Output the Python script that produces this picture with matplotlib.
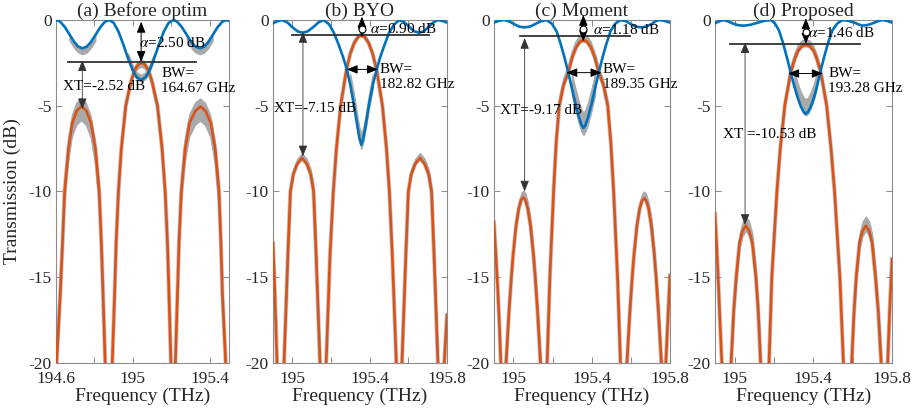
import numpy as np
import matplotlib.pyplot as plt

plt.rcParams['font.family'] = ['Liberation Serif', 'DejaVu Serif']
plt.rcParams['mathtext.fontset'] = 'stix'

# -----------------------------
# Values
# -----------------------------
titles = ['(a) Before optim', '(b) BYO', '(c) Moment', '(d) Proposed']
freq_lims = [(194.6, 195.5), (194.9, 195.8), (194.9, 195.8), (194.9, 195.8)]
x_major = [[194.6, 195.0, 195.4], [195.0, 195.4, 195.8],
           [195.0, 195.4, 195.8], [195.0, 195.4, 195.8]]
x_major_lab = [['194.6', '195', '195.4'], ['195', '195.4', '195.8'],
               ['195', '195.4', '195.8'], ['195', '195.4', '195.8']]
x_minor = [[194.8, 195.2], [195.2, 195.6], [195.2, 195.6], [195.2, 195.6]]
y_ticks = [0, -5, -10, -15, -20]
y_tick_lab = ['0', '-5', '-10', '-15', '-20']

# drop port (orange), (THz, dB)
drop_a = [(194.597, -30), (194.603, -20), (194.622, -16), (194.634, -13), (194.645, -10),
          (194.665, -7.5), (194.685, -6.0), (194.708, -5.3), (194.733, -5.02), (194.758, -5.3),
          (194.782, -6.0), (194.805, -7.5), (194.825, -10), (194.836, -13), (194.845, -16),
          (194.856, -20), (194.875, -30), (194.893, -20), (194.905, -16), (194.913, -13),
          (194.925, -10), (194.94, -7.5), (194.963, -5.0), (194.99, -3.6), (195.01, -2.9),
          (195.028, -2.6), (195.045, -2.5), (195.062, -2.6), (195.08, -2.9), (195.1, -3.6),
          (195.128, -5.0), (195.152, -7.5), (195.168, -10), (195.18, -13), (195.188, -16),
          (195.198, -20), (195.21, -30), (195.221, -20), (195.232, -16), (195.24, -13),
          (195.252, -10), (195.272, -7.5), (195.295, -6.0), (195.325, -5.3), (195.352, -5.05),
          (195.378, -5.3), (195.405, -6.0), (195.428, -7.5), (195.448, -10), (195.458, -13),
          (195.466, -16), (195.483, -20), (195.495, -30)]
drop_b = [(194.9, -13.0), (194.907, -15), (194.914, -17.5), (194.921, -20), (194.94, -30),
          (194.957, -20), (194.977, -13.7), (194.99, -10), (195.005, -9.0), (195.025, -8.4),
          (195.05, -8.05), (195.075, -8.4), (195.095, -9.0), (195.11, -10), (195.123, -13.7),
          (195.143, -20), (195.16, -30), (195.175, -20), (195.195, -13.7), (195.212, -10),
          (195.228, -7.5), (195.25, -5), (195.28, -2.9), (195.3, -1.95), (195.32, -1.35),
          (195.34, -1.0), (195.357, -0.9), (195.375, -1.0), (195.395, -1.35), (195.415, -1.95),
          (195.436, -2.9), (195.466, -5), (195.487, -7.5), (195.502, -10), (195.517, -13.7),
          (195.538, -20), (195.552, -30), (195.567, -20), (195.587, -13.7), (195.6, -10),
          (195.615, -9.0), (195.635, -8.4), (195.66, -8.05), (195.685, -8.4), (195.705, -9.0),
          (195.72, -10), (195.733, -13.7), (195.753, -20), (195.77, -30), (195.786, -20),
          (195.793, -18.5), (195.8, -17.2)]
drop_c = [(194.9, -11.8), (194.91, -13.7), (194.92, -15.8), (194.928, -17.8), (194.935, -20),
          (194.95, -30), (194.962, -20), (194.977, -17), (194.989, -15), (194.998, -13.7),
          (195.013, -12), (195.027, -11), (195.04, -10.47), (195.05, -10.35), (195.06, -10.47),
          (195.073, -11), (195.087, -12), (195.102, -13.7), (195.111, -15), (195.123, -17),
          (195.138, -20), (195.153, -30), (195.172, -20), (195.186, -15), (195.205, -10),
          (195.218, -7.2), (195.234, -5), (195.256, -3.8), (195.28, -3.06), (195.3, -2.2),
          (195.32, -1.6), (195.34, -1.26), (195.358, -1.18), (195.376, -1.26), (195.396, -1.6),
          (195.416, -2.2), (195.436, -3.06), (195.46, -3.8), (195.482, -5), (195.498, -7.2),
          (195.512, -10), (195.532, -15), (195.547, -20), (195.562, -30), (195.58, -20),
          (195.595, -17), (195.607, -15), (195.616, -13.7), (195.631, -12), (195.645, -11),
          (195.658, -10.52), (195.668, -10.4), (195.678, -10.52), (195.691, -11), (195.705, -12),
          (195.72, -13.7), (195.729, -15), (195.741, -17), (195.756, -20), (195.767, -30),
          (195.779, -20), (195.79, -17.3), (195.8, -14.9)]
drop_d = [(194.9, -11.3), (194.908, -13), (194.918, -15.5), (194.927, -18), (194.935, -20),
          (194.957, -30), (194.982, -20), (194.995, -17), (195.008, -15), (195.025, -13),
          (195.04, -12.3), (195.057, -11.99), (195.074, -12.3), (195.09, -13), (195.108, -15),
          (195.12, -17), (195.132, -20), (195.153, -30), (195.175, -20), (195.189, -15),
          (195.215, -10), (195.232, -7.5), (195.255, -5), (195.285, -3.06), (195.305, -2.3),
          (195.322, -1.8), (195.342, -1.52), (195.362, -1.45), (195.382, -1.52), (195.402, -1.8),
          (195.419, -2.3), (195.438, -3.06), (195.468, -5), (195.49, -7.5), (195.508, -10),
          (195.535, -15), (195.553, -20), (195.575, -30), (195.595, -20), (195.607, -17),
          (195.618, -15), (195.635, -13), (195.65, -12.3), (195.667, -12.0), (195.684, -12.3),
          (195.699, -13), (195.716, -15), (195.73, -17), (195.745, -20), (195.76, -30),
          (195.778, -20), (195.788, -17), (195.8, -13.95)]

# through port (blue), (THz, dB)
thru_a = [(194.6, 0), (194.62, -0.08), (194.645, -0.39), (194.67, -0.84), (194.695, -1.28),
          (194.715, -1.54), (194.737, -1.65), (194.76, -1.55), (194.78, -1.31), (194.805, -0.88),
          (194.83, -0.43), (194.855, -0.1), (194.877, 0), (194.9, -0.16), (194.925, -0.67),
          (194.95, -1.42), (194.975, -2.24), (195.0, -2.95), (195.02, -3.34), (195.043, -3.5),
          (195.065, -3.35), (195.085, -2.98), (195.11, -2.27), (195.135, -1.45), (195.16, -0.7),
          (195.185, -0.18), (195.209, 0), (195.23, -0.09), (195.255, -0.42), (195.28, -0.86),
          (195.305, -1.3), (195.325, -1.54), (195.348, -1.65), (195.37, -1.56), (195.39, -1.32),
          (195.415, -0.88), (195.44, -0.43), (195.465, -0.1), (195.486, 0), (195.5, -0.05)]
thru_b = [(194.9, -0.19), (194.925, -0.06), (194.947, 0), (194.975, -0.15), (195.0, -0.42),
          (195.03, -0.68), (195.055, -0.74), (195.08, -0.66), (195.11, -0.4), (195.135, -0.14),
          (195.162, 0), (195.19, -0.25), (195.215, -0.75), (195.24, -1.45), (195.262, -2.15),
          (195.283, -2.9), (195.3, -3.8), (195.318, -4.9), (195.335, -6.1), (195.347, -6.9),
          (195.357, -7.27), (195.367, -6.9), (195.38, -6.1), (195.397, -4.9), (195.416, -3.8),
          (195.436, -2.9), (195.455, -2.15), (195.477, -1.45), (195.5, -0.75), (195.527, -0.25),
          (195.555, 0), (195.58, -0.14), (195.605, -0.4), (195.63, -0.66), (195.655, -0.74),
          (195.68, -0.66), (195.705, -0.4), (195.73, -0.14), (195.752, 0), (195.775, -0.05),
          (195.8, -0.15)]
thru_c = [(194.9, -0.15), (194.93, -0.03), (194.955, 0), (194.98, -0.09), (195.005, -0.25),
          (195.03, -0.39), (195.057, -0.43), (195.085, -0.38), (195.11, -0.24), (195.14, -0.07),
          (195.168, 0), (195.195, -0.2), (195.22, -0.65), (195.24, -1.35), (195.26, -2.15),
          (195.28, -3.06), (195.298, -3.95), (195.316, -4.85), (195.333, -5.6), (195.347, -6.1),
          (195.358, -6.3), (195.369, -6.1), (195.383, -5.6), (195.4, -4.85), (195.418, -3.95),
          (195.436, -3.06), (195.456, -2.15), (195.476, -1.35), (195.496, -0.65), (195.521, -0.2),
          (195.548, 0), (195.575, -0.07), (195.6, -0.24), (195.625, -0.38), (195.653, -0.43),
          (195.68, -0.38), (195.705, -0.24), (195.727, -0.07), (195.747, 0), (195.772, -0.05),
          (195.8, -0.15)]
thru_d = [(194.9, -0.19), (194.925, -0.06), (194.946, 0), (194.97, -0.1), (194.995, -0.22),
          (195.02, -0.31), (195.048, -0.33), (195.08, -0.28), (195.11, -0.18), (195.15, -0.05),
          (195.184, 0), (195.205, -0.2), (195.225, -0.6), (195.245, -1.3), (195.265, -2.15),
          (195.285, -3.06), (195.303, -3.85), (195.32, -4.5), (195.335, -5.0), (195.35, -5.35),
          (195.362, -5.47), (195.374, -5.35), (195.389, -5.0), (195.404, -4.5), (195.419, -3.85),
          (195.435, -3.06), (195.455, -2.15), (195.476, -1.3), (195.497, -0.6), (195.522, -0.2),
          (195.549, 0), (195.58, -0.05), (195.615, -0.18), (195.63, -0.26), (195.651, -0.33),
          (195.68, -0.28), (195.705, -0.18), (195.73, -0.06), (195.752, 0), (195.775, -0.05),
          (195.8, -0.15)]

# spread of the gray Monte-Carlo curves: (f start, f end, dB above, dB below)
drop_spread = [
    [(194.597, 194.875, 0.45, -0.85), (195.21, 195.495, 0.45, -0.85), (194.875, 195.21, 0.15, -0.25)],
    [(194.94, 195.16, 0.3, 0.0), (195.552, 195.77, 0.3, 0.0), (195.16, 195.552, 0.15, 0.0)],
    [(195.153, 195.562, 0.35, -0.1), (194.95, 195.153, 0.4, 0.0), (195.562, 195.767, 0.4, 0.0)],
    [(195.153, 195.575, 0.3, -0.1), (194.957, 195.153, 0.55, -0.3), (195.575, 195.76, 0.55, -0.3)],
]
thru_spread = [
    [(194.66, 194.81, 0.0, -0.35), (195.27, 195.43, 0.0, -0.35), (194.97, 195.12, 0.3, -0.1)],
    [(195.3, 195.42, 0.65, -0.25)],
    [(195.29, 195.43, 0.9, -0.4)],
    [(195.29, 195.43, 0.85, -0.1)],
]

# annotations
hline_y = [-2.45, -0.85, -0.95, -1.4]
hline_f0 = [194.662, 194.997, 195.033, 194.975]
hline_f1 = [195.329, 195.707, 195.595, 195.636]
xt_f = [194.737, 195.055, 195.057, 195.053]
xt_top = [-2.35, -0.7, -1.05, -1.3]
xt_bot = [-5.2, -7.95, -10.0, -11.95]
xt_text = ['XT=-2.52 dB', 'XT=-7.15 dB', 'XT=-9.17 dB', 'XT =-10.53 dB']
xt_tf = [194.636, 194.905, 194.93, 194.94]
xt_ty = [-3.85, -5.15, -5.25, -6.7]
alpha_f = [195.043, 195.36, 195.357, 195.362]
alpha_top = [-0.1, 0.2, 0.3, 0.1]
alpha_bot = [-2.45, -1.0, -1.25, -1.4]
alpha_val = ['2.50', '0.90', '1.18', '1.46']
alpha_tf = [195.03, 195.402, 195.406, 195.375]
alpha_ty = [-1.32, -0.54, -0.58, -0.77]
circle_y = [None, -0.55, -0.5, -0.7]
bw_y = [None, -2.88, -3.07, -3.12]
bw_f0 = [None, 195.281, 195.27, 195.272]
bw_f1 = [None, 195.443, 195.45, 195.448]
bw_val = ['164.67', '182.82', '189.35', '193.28']
bw_tf = [195.148, 195.453, 195.457, 195.475]
bw_ty = [-3.55, -3.33, -3.33, -3.55]

drops = [drop_a, drop_b, drop_c, drop_d]
thrus = [thru_a, thru_b, thru_c, thru_d]

# -----------------------------
# Figure
# -----------------------------
fig = plt.figure(figsize=(9.13, 4.09), dpi=100, facecolor='white')
positions = [(0.0613, 0.1125, 0.1895, 0.8386), (0.299, 0.1125, 0.1906, 0.8386),
             (0.541, 0.1125, 0.1928, 0.8386), (0.7831, 0.1125, 0.1939, 0.8386)]

c_drop = '#D95319'
c_thru = '#0072BD'
c_gray = '#a9a9a9'
c_axis = '#8c8c8c'
c_text = '#262626'


def double_arrow(ax, p0, p1, lw=0.7, color='black'):
    ax.annotate('', xy=p1, xytext=p0, annotation_clip=False, zorder=6,
                arrowprops=dict(arrowstyle='<|-|>,head_length=0.55,head_width=0.22',
                                color=color, lw=lw, shrinkA=0, shrinkB=0,
                                mutation_scale=12))


def gray_band(ax, f, t, spreads):
    for f0, f1, up, dn in spreads:
        m = (f >= f0) & (f <= f1)
        ax.fill_between(f, t + up, t + dn, where=m, color=c_gray, lw=0.8,
                        edgecolor=c_gray, zorder=1)


for i in range(4):
    ax = fig.add_axes(positions[i])
    fd, td = np.array(drops[i]).T
    fb, tb = np.array(thrus[i]).T

    # gray Monte-Carlo curves
    ax.plot(fd, td, color='#c6c6c6', lw=3.1, zorder=1, solid_joinstyle='round')
    gray_band(ax, fd, td, drop_spread[i])
    gray_band(ax, fb, tb, thru_spread[i])

    ax.plot(fd, td, color=c_drop, lw=1.9, zorder=3, solid_joinstyle='round')
    ax.plot(fb, tb, color=c_thru, lw=1.9, zorder=4, solid_joinstyle='round')

    # annotations
    ax.plot([hline_f0[i], hline_f1[i]], [hline_y[i], hline_y[i]],
            color='#333333', lw=1.3, zorder=5)
    double_arrow(ax, (xt_f[i], xt_top[i]), (xt_f[i], xt_bot[i]), lw=0.6, color='#333333')
    double_arrow(ax, (alpha_f[i], alpha_top[i]), (alpha_f[i], alpha_bot[i]))
    if circle_y[i] is not None:
        ax.plot(alpha_f[i], circle_y[i], 'o', ms=5, mfc='white', mec='black',
                mew=0.8, zorder=7, clip_on=False)
    if bw_y[i] is not None:
        double_arrow(ax, (bw_f0[i], bw_y[i]), (bw_f1[i], bw_y[i]))

    ax.text(xt_tf[i], xt_ty[i], xt_text[i], fontsize=11, va='center', ha='left',
            color='black', zorder=8)
    ax.text(alpha_tf[i], alpha_ty[i], r'$\alpha$=' + alpha_val[i] + ' dB', fontsize=11,
            va='center', ha='left', color='black', zorder=8)
    ax.text(bw_tf[i], bw_ty[i], 'BW=\n' + bw_val[i] + ' GHz', fontsize=11,
            va='center', ha='left', color='black', linespacing=1.15, zorder=8)

    # axes formatting
    ax.set_xlim(*freq_lims[i])
    ax.set_ylim(-20, 0)
    ax.set_xticks(x_major[i])
    ax.set_xticklabels(x_major_lab[i])
    ax.set_xticks(x_minor[i], minor=True)
    ax.set_yticks(y_ticks)
    ax.set_yticklabels(y_tick_lab)
    ax.tick_params(which='both', direction='in', length=4, width=0.7, color=c_axis,
                   top=True, right=True, labelsize=12.5, labelcolor=c_text)
    ax.tick_params(axis='x', pad=6)
    ax.tick_params(axis='y', pad=3)
    for s in ax.spines.values():
        s.set_color(c_axis)
        s.set_linewidth(0.8)

    ax.set_title(titles[i], fontsize=14, color=c_text, pad=2)
    ax.set_xlabel('Frequency (THz)', fontsize=14, color=c_text, labelpad=0)

fig.text(0.014, 0.532, 'Transmission (dB)', rotation=90, ha='center', va='center',
         fontsize=14, color=c_text)

fig.savefig('out.png', dpi=100)
